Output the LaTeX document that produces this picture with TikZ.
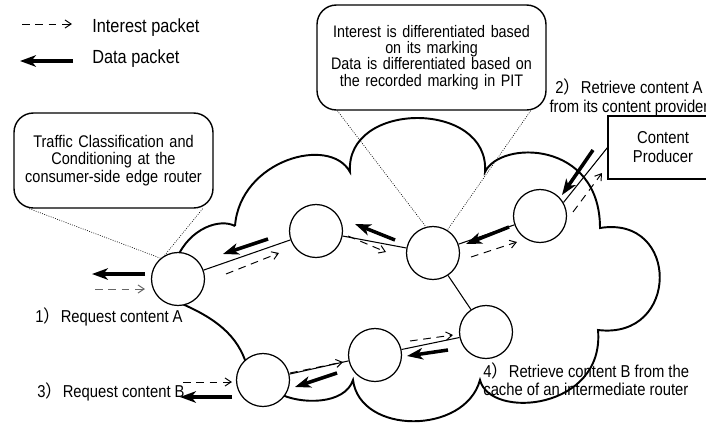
\documentclass[tikz,border=0pt]{standalone}
\usepackage{fontspec}
\setmainfont{Liberation Sans}[FakeStretch=0.86]
\newfontfamily\cjk{Noto Sans CJK SC}
\usetikzlibrary{arrows.meta, calc}

\tikzset{
  router/.style={circle, draw, fill=white, line width=0.7pt, minimum size=1.06cm, inner sep=0pt},
  note/.style={draw, rounded corners=11pt, line width=0.8pt, align=center, inner sep=0pt},
  link/.style={line width=0.6pt},
  cloudline/.style={line width=1.1pt},
  pointer/.style={line width=0.35pt, dash pattern=on 0.5pt off 0.8pt}
}
\tikzset{
  datapkt/.style={line width=2pt, -{Stealth[length=9pt, width=6.5pt, inset=2.5pt]}},
  interestpkt/.style={line width=0.55pt, dash pattern=on 4.4pt off 3.2pt, -{Straight Barb[length=3.5pt, width=4.6pt]}}
}
\tikzset{
  smalltext/.style={font=\fontsize{9.8}{10.8}\selectfont, inner sep=0pt},
  legendtext/.style={font=\fontsize{10.8}{12}\selectfont, inner sep=0pt}
}
\newcommand{\fwp}{{\cjk ）}}
\newcommand{\tightlines}{\lineskiplimit=-6pt\relax}

\begin{document}
\begin{tikzpicture}[x=0.02cm, y=-0.02cm]
  \clip (0,0) rectangle (706,423);
  % network cloud
  \draw[cloudline] (235,226) .. controls (240,160) and (330,135) .. (350,172)
    .. controls (345,100) and (490,100) .. (485,172)
    .. controls (500,140) and (600,140) .. (600,228)
    .. controls (680,215) and (680,340) .. (598,330)
    .. controls (605,410) and (490,420) .. (480,380)
    .. controls (465,435) and (360,435) .. (353,380)
    .. controls (345,405) and (300,405) .. (278,393)
    -- (247,366)
    .. controls (238,335) and (215,318) .. (180,303)
    -- (177,258)
    .. controls (190,228) and (220,218) .. (235,226);

  % routers
  \node[router] (r1) at (178,279) {};
  \node[router] (r2) at (316,231) {};
  \node[router] (r3) at (433,253) {};
  \node[router] (r4) at (540,216) {};
  \node[router] (r5) at (486,332) {};
  \node[router] (r6) at (375,355) {};
  \node[router] (r7) at (263,380) {};
  \node[draw, line width=0.6pt, minimum width=2.2cm, minimum height=1.26cm, align=center,
        font=\fontsize{9.8}{10.8}\selectfont] (prod) at (663,147.5) {Content\\Producer};

  % links
  \draw[link] (r1) -- (r2);
  \draw[link] (r2) -- (r3);
  \draw[link] (r3) -- (r4);
  \draw[link] (r3) -- (r5);
  \draw[link] (r5) -- (r6);
  \draw[link] (r6) -- (r7);
  \draw[link] (r4.30) -- (prod.west);

  % callouts
  \node[note, minimum width=4.58cm, minimum height=2.1cm, text width=4.3cm,
        font=\fontsize{9.5}{9.3}\selectfont\tightlines] (mark) at (431.5,57.5)
    {Interest is differentiated based\\on its marking\\Data is differentiated based on\\the recorded marking in PIT};
  \node[note, minimum width=3.98cm, minimum height=1.9cm, text width=3.7cm,
        font=\fontsize{9.6}{9.9}\selectfont\tightlines] (edge) at (113.5,160.5)
    {Traffic Classification and\\Conditioning at the\\consumer-side edge router};
  \draw[pointer] ([xshift=0.42cm]mark.south west) -- (r3.105);
  \draw[pointer] ([xshift=-0.32cm]mark.south east) -- (r3.58);
  \draw[pointer] ([xshift=0.32cm]edge.south west) -- (r1.130);
  \draw[pointer] ([xshift=-0.22cm]edge.south east) -- (r1.120);

  % legend
  \draw[interestpkt] (22,24) -- (72,24);
  \draw[datapkt] (73,61) -- (20,61);
  \node[legendtext, anchor=base west] (lint) at (92,32) {Interest packet};
  \node[legendtext, anchor=base west] (ldata) at (92,63) {Data packet};

  % packets on the paths
  \foreach \xa/\ya/\xb/\yb in {145/274/92/274, 268/239/223/254, 395/240/355/224, 509/227/466/244,
      593/150/562/195, 448/350/407/356, 337/373/295/387, 232/397/180/397}
    \draw[datapkt] (\xa,\ya) -- (\xb,\yb);
  \draw[interestpkt, gray!80!black] (95,289) -- (145,289);
  \foreach \xa/\ya/\xb/\yb in {226/274/279/253, 348/236/386/252, 471/257/517/242,
      573/212/602/173, 410/341/453/335, 290/373/343/362, 183/382/232/382}
    \draw[interestpkt] (\xa,\ya) -- (\xb,\yb);

  % steps
  \node[smalltext, anchor=base west] (reqa) at (35,322) {1\fwp Request content A};
  \node[smalltext, anchor=base west] (reqb) at (37,397) {3\fwp Request content B};
  \node[smalltext, align=center, anchor=base] (geta) at (629,112)
    {2\fwp Retrieve content A\\from its content provider};
  \node[smalltext, align=left, anchor=base west, font=\fontsize{9.8}{10.2}\selectfont] (getb) at (483,395)
    {4\fwp Retrieve content B from the\\cache of an intermediate router};
\end{tikzpicture}
\end{document}
